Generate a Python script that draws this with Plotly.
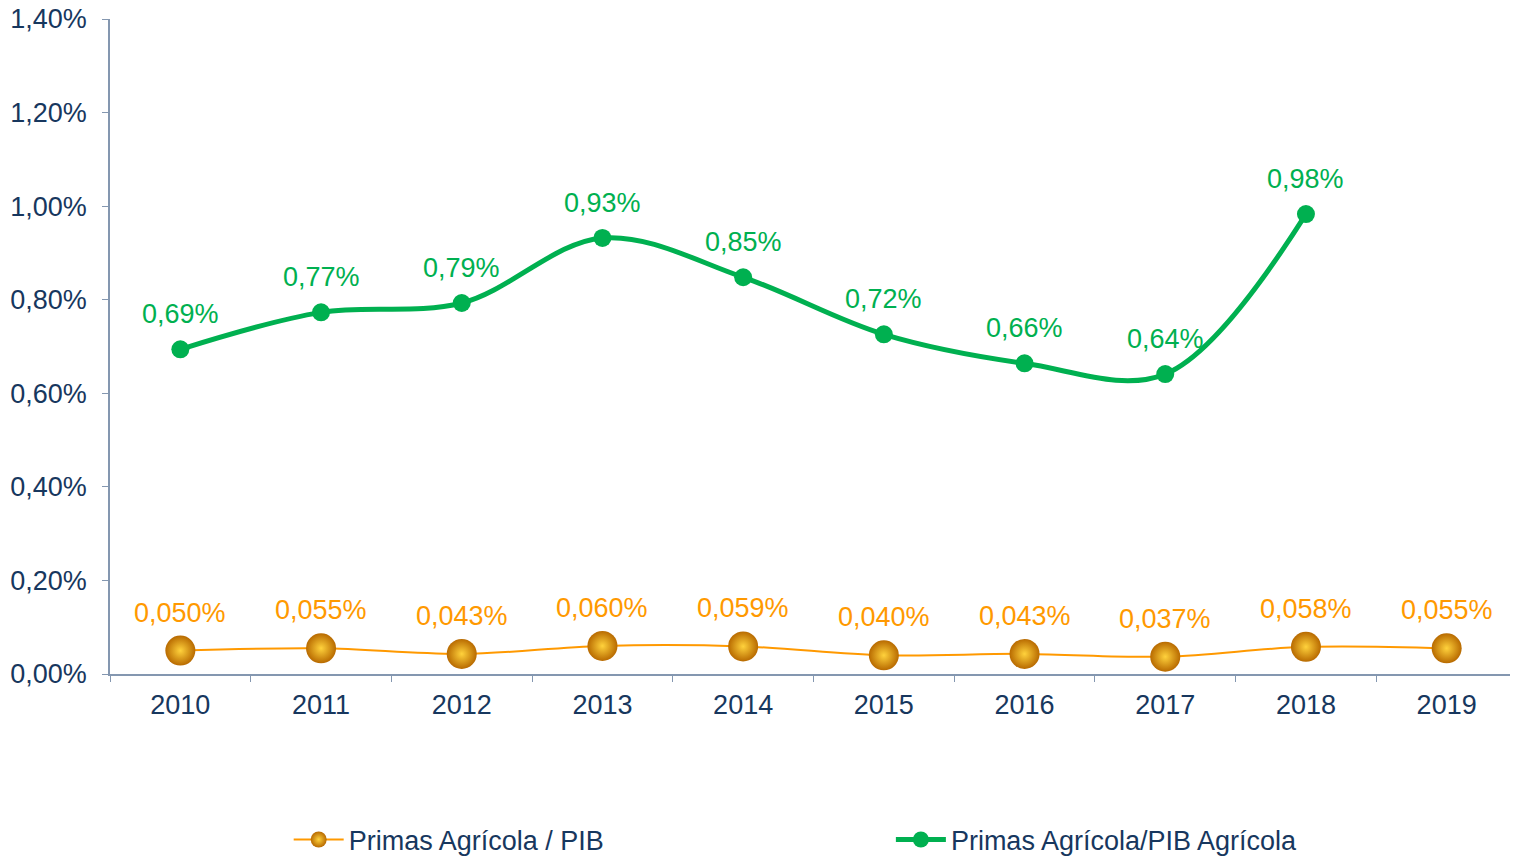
import plotly.graph_objects as go

years = ["2010", "2011", "2012", "2013", "2014", "2015", "2016", "2017", "2018", "2019"]
pib_ratio = [0.050, 0.055, 0.043, 0.060, 0.059, 0.040, 0.043, 0.037, 0.058, 0.055]
pib_labels = ["0,050%", "0,055%", "0,043%", "0,060%", "0,059%", "0,040%", "0,043%", "0,037%", "0,058%", "0,055%"]
agri_years = ["2010", "2011", "2012", "2013", "2014", "2015", "2016", "2017", "2018"]
agri_ratio = [0.694, 0.773, 0.793, 0.932, 0.848, 0.726, 0.664, 0.641, 0.983]
agri_labels = ["0,69%", "0,77%", "0,79%", "0,93%", "0,85%", "0,72%", "0,66%", "0,64%", "0,98%"]
y_ticks = [0, 0.2, 0.4, 0.6, 0.8, 1.0, 1.2, 1.4]

ORANGE = "#FF9900"
GREEN = "#00B050"
NAVY = "#17375E"
AXIS = "#8497B0"
FONT = "Liberation Sans, Arial, sans-serif"
FS = 27

fig = go.Figure()
fig.add_trace(go.Scatter(
    x=years, y=[v / 100 for v in pib_ratio], name="Primas Agrícola / PIB",
    mode="lines+markers", line=dict(color=ORANGE, width=2, shape="spline"),
    marker=dict(size=30, color="#B86A00", gradient=dict(type="radial", color="#FFD23C"),
                line=dict(width=0)),
    hoverinfo="skip", legend="legend",
))
fig.add_trace(go.Scatter(
    x=agri_years, y=[v / 100 for v in agri_ratio], name="Primas Agrícola/PIB Agrícola",
    mode="lines+markers", line=dict(color=GREEN, width=5, shape="spline"),
    marker=dict(size=18, color=GREEN),
    hoverinfo="skip", legend="legend2",
))

for i, (v, t) in enumerate(zip(pib_ratio, pib_labels)):
    fig.add_annotation(x=i, y=v / 100, text=t, showarrow=False, yshift=38,
                       font=dict(color=ORANGE, size=FS, family=FONT))
for i, (v, t) in enumerate(zip(agri_ratio, agri_labels)):
    fig.add_annotation(x=i, y=v / 100, text=t, showarrow=False, yshift=35,
                       font=dict(color=GREEN, size=FS, family=FONT))

fig.update_layout(
    width=1510, height=848,
    margin=dict(l=102, r=1, t=11, b=182),
    paper_bgcolor="white", plot_bgcolor="white",
    separators=",.",
    font=dict(family=FONT, color=NAVY, size=FS),
    showlegend=True,
    legend=dict(orientation="h", x=0.127, xanchor="left", yref="container", y=0.0189,
                yanchor="middle", itemwidth=50, font=dict(size=FS, color=NAVY, family=FONT)),
    legend2=dict(orientation="h", x=0.555, xanchor="left", yref="container", y=0.0189,
                 yanchor="middle", itemwidth=50, font=dict(size=FS, color=NAVY, family=FONT)),
    xaxis=dict(type="category", tickson="boundaries", showline=True, linecolor=AXIS,
               linewidth=1.5, ticks="outside", ticklen=6, tickcolor=AXIS, showgrid=False,
               zeroline=False, tickfont=dict(size=FS, color=NAVY, family=FONT),
               range=[-0.5, 9.5], automargin=False, ticklabelstandoff=6),
    yaxis=dict(range=[0, 0.014], tickvals=[v / 100 for v in y_ticks], tickformat=".2%",
               showline=True, linecolor=AXIS, linewidth=1.5, ticks="outside", ticklen=6,
               tickcolor=AXIS, showgrid=False, zeroline=False, automargin=False,
               ticklabeloverflow="allow", ticklabelstandoff=10,
               tickfont=dict(size=FS, color=NAVY, family=FONT)),
)
fig.write_html("out.html")
